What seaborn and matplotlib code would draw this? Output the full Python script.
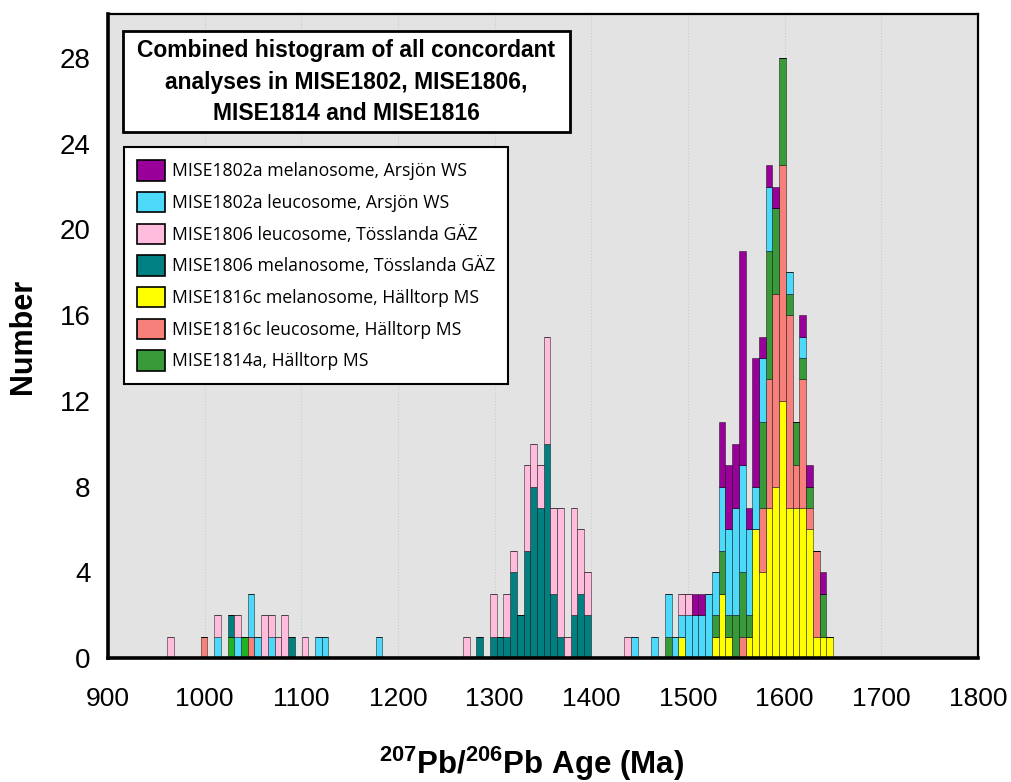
import numpy as np
import pandas as pd
import matplotlib
matplotlib.use("Agg")
import matplotlib.pyplot as plt
from matplotlib.patches import Patch, Rectangle
import seaborn as sns

# Ages (bin centres, Ma) and number of analyses per bin
mel_1802a_age = [1507, 1514, 1535, 1542, 1549, 1556, 1563, 1570, 1577, 1584, 1591, 1619, 1626, 1640]
mel_1802a_n = [1, 1, 3, 3, 3, 10, 1, 6, 1, 1, 1, 1, 1, 1]

leu_1802a_age = [1013, 1034, 1048, 1055, 1069, 1118, 1125, 1180, 1445, 1466, 1480, 1486, 1493, 1500,
                 1507, 1514, 1521, 1528, 1535, 1542, 1549, 1556, 1563, 1570, 1577, 1584, 1605, 1619]
leu_1802a_n = [1, 1, 2, 1, 1, 1, 1, 1, 1, 1, 2, 1, 1, 2, 2, 2, 3, 2, 3, 4, 5, 5, 4, 2, 3, 3, 1, 1]

leu_1806_age = [964, 1013, 1034, 1062, 1069, 1076, 1083, 1104, 1271, 1299, 1312, 1319, 1333,
                1340, 1347, 1354, 1361, 1368, 1375, 1382, 1389, 1396, 1438, 1493, 1500]
leu_1806_n = [1, 1, 1, 2, 1, 1, 2, 1, 1, 2, 2, 1, 4, 2, 2, 5, 4, 6, 1, 5, 3, 2, 1, 1, 1]

mel_1806_age = [1027, 1090, 1285, 1299, 1305, 1312, 1319, 1326, 1333, 1340, 1347, 1354, 1361,
                1368, 1382, 1389, 1396]
mel_1806_n = [1, 1, 1, 1, 1, 1, 4, 2, 5, 8, 7, 10, 3, 1, 2, 3, 2]

mel_1816c_age = [1493, 1528, 1535, 1542, 1563, 1570, 1577, 1584, 1591, 1598, 1605, 1612, 1619,
                 1626, 1633, 1640, 1646]
mel_1816c_n = [1, 1, 3, 1, 1, 6, 4, 7, 8, 12, 7, 7, 7, 6, 1, 1, 1]

leu_1816c_age = [999, 1048, 1556, 1577, 1584, 1591, 1598, 1605, 1612, 1619, 1626, 1633]
leu_1816c_n = [1, 1, 1, 3, 6, 9, 11, 9, 2, 6, 1, 4]

mise1814a_age = [1480, 1528, 1535, 1542, 1549, 1556, 1563, 1577, 1584, 1591, 1598, 1605, 1612,
                 1619, 1626, 1640]
mise1814a_n = [1, 1, 2, 1, 2, 3, 1, 4, 6, 4, 5, 1, 2, 1, 1, 2]

# two bars in a brighter green, not in the legend
extra_age = [1027, 1041]
extra_n = [1, 1]

labels = ["MISE1802a melanosome, Arsjön WS",
          "MISE1802a leucosome, Arsjön WS",
          "MISE1806 leucosome, Tösslanda GÄZ",
          "MISE1806 melanosome, Tösslanda GÄZ",
          "MISE1816c melanosome, Hälltorp MS",
          "MISE1816c leucosome, Hälltorp MS",
          "MISE1814a, Hälltorp MS"]
colors = ["#990099", "#4dd9f9", "#ffbcdc", "#008080", "#ffff00", "#f8807a", "#399a3a"]
extra_label = "extra"
extra_color = "#22b322"

# build long table
ages = [mel_1802a_age, leu_1802a_age, leu_1806_age, mel_1806_age, mel_1816c_age, leu_1816c_age, mise1814a_age]
counts = [mel_1802a_n, leu_1802a_n, leu_1806_n, mel_1806_n, mel_1816c_n, leu_1816c_n, mise1814a_n]
rows = []
for lab, a, n in zip(labels, ages, counts):
    for x, c in zip(a, n):
        rows.append((lab, x, c))
for x, c in zip(extra_age, extra_n):
    rows.append((extra_label, x, c))
df = pd.DataFrame(rows, columns=["sample", "age", "n"])

# stacking: first level ends up on top
stack_order = [labels[0], labels[2], labels[1], labels[3], labels[6], labels[5], labels[4], extra_label]
palette = dict(zip(labels, colors))
palette[extra_label] = extra_color

sns.set_style("white")
plt.rcParams["font.family"] = ["Liberation Sans", "DejaVu Sans"]
plt.rcParams["text.color"] = "black"
plt.rcParams["axes.labelcolor"] = "black"
plt.rcParams["mathtext.fontset"] = "custom"
plt.rcParams["mathtext.rm"] = "Liberation Sans:bold"
plt.rcParams["mathtext.bf"] = "Liberation Sans:bold"
plt.rcParams["mathtext.default"] = "bf"

fig = plt.figure(figsize=(10.12, 7.82), dpi=100)
ax = fig.add_axes([108 / 1012, 1 - 658 / 782, 870 / 1012, 644 / 782])
ax.set_facecolor("#e3e3e3")

sns.histplot(data=df, x="age", weights="n", hue="sample", hue_order=stack_order,
             multiple="stack", bins=99, binrange=(961, 1650), palette=palette, alpha=1,
             edgecolor=(0, 0, 0, 0.45), linewidth=0.7, legend=False, ax=ax)

ax.set_xlim(900, 1800)
ax.set_ylim(0, 30.05)
ax.set_xticks(np.arange(900, 1801, 100))
ax.set_xticks(np.arange(950, 1800, 100), minor=True)
ax.set_yticks(np.arange(0, 29, 4))
ax.set_yticks(np.arange(2, 30, 2), minor=True)
ax.tick_params(axis="x", which="major", direction="out", length=9, width=1.5, color="black",
               labelcolor="black", labelsize=19, pad=12)
ax.tick_params(axis="x", which="minor", direction="in", length=7, width=1.5, color="black")
ax.tick_params(axis="y", which="major", direction="inout", length=17, width=1, color="#999999",
               labelcolor="black", labelsize=20, pad=4)
ax.tick_params(axis="y", which="minor", direction="in", length=5, width=1, color="#aaaaaa")
for side, lw in [("left", 2.6), ("bottom", 2.6), ("top", 1.6), ("right", 1.6)]:
    ax.spines[side].set_linewidth(lw)
    ax.spines[side].set_color("black")
ax.grid(axis="x", which="major", color="#cccccc", linestyle=":", linewidth=0.8)
ax.set_axisbelow(True)

ax.set_ylabel("Number", fontsize=22, fontweight="bold")
ax.yaxis.set_label_coords(-0.08, 0.5)
ax.set_xlabel(r"$^{207}$Pb/$^{206}$Pb Age (Ma)", fontsize=22.5, fontweight="bold")
ax.xaxis.set_label_coords(0.487, -0.135)

# title box
fig.patches.append(Rectangle((123 / 1012, 1 - 132 / 782), 447 / 1012, 101 / 782,
                             transform=fig.transFigure, facecolor="white",
                             edgecolor="black", linewidth=2, zorder=5))
fig.text(346 / 1012, 1 - 82 / 782,
         "Combined histogram of all concordant\nanalyses in MISE1802, MISE1806,\nMISE1814 and MISE1816",
         ha="center", va="center", multialignment="center", fontsize=16.5,
         fontweight="bold", linespacing=1.45, zorder=6)

# legend
handles = [Patch(facecolor=c, edgecolor="black", linewidth=1.2) for c in colors]
leg = ax.legend(handles, labels, loc="upper left",
                bbox_to_anchor=(124 / 1012, 1 - 147 / 782), bbox_transform=fig.transFigure,
                frameon=True, fancybox=False, framealpha=1, edgecolor="black",
                prop={"family": ["Open Sans", "DejaVu Sans"], "size": 12.7},
                handlelength=1.55, handleheight=1.4, handletextpad=0.4,
                labelspacing=0.64, borderpad=0.75, borderaxespad=0)
leg.get_frame().set_linewidth(1.5)
for t in leg.get_texts():
    t.set_color("black")

fig.savefig("out.png", dpi=100)
